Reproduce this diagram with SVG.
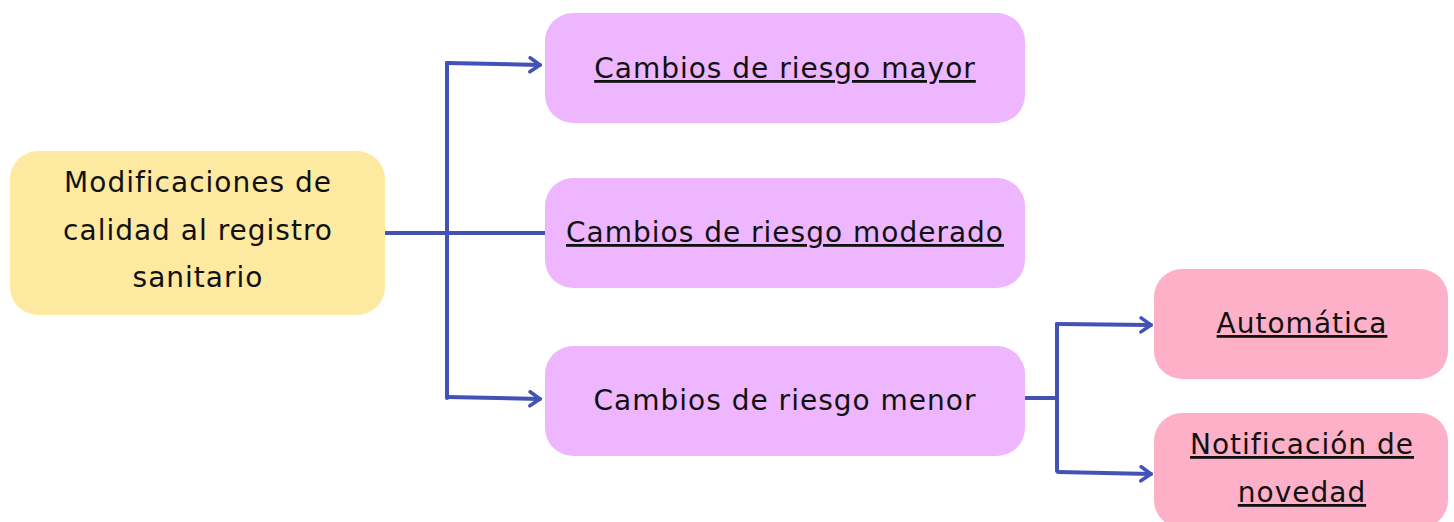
<svg xmlns="http://www.w3.org/2000/svg" width="1454" height="522" viewBox="0 0 1454 522">
<style>
.t{font-family:"DejaVu Sans","Noto Sans",sans-serif;font-size:28px;letter-spacing:1px;fill:#111;text-anchor:middle}
.u{text-decoration:underline}
.c{fill:none;stroke:#4252b6;stroke-width:4;stroke-linecap:round;stroke-linejoin:round}
</style>
<defs>
<marker id="a" viewBox="0 0 16 18" refX="13" refY="9" markerWidth="16" markerHeight="18" markerUnits="userSpaceOnUse" orient="auto">
<path d="M3,2 L13,9 L3,16" fill="none" stroke="#4252b6" stroke-width="3.5" stroke-linecap="round" stroke-linejoin="round"/>
</marker>
</defs>
<rect width="1454" height="522" fill="#fff"/>
<g id="connectors">
<path class="c" d="M385,233 H545"/>
<path class="c" d="M447,398 V63"/>
<path class="c" d="M447,63 L540,65" marker-end="url(#a)"/>
<path class="c" d="M447,397 L540,399" marker-end="url(#a)"/>
<path class="c" d="M1025,398 H1057"/>
<path class="c" d="M1057,471 V324"/>
<path class="c" d="M1057,324 L1151,325" marker-end="url(#a)"/>
<path class="c" d="M1058,472 L1151,474" marker-end="url(#a)"/>
</g>
<g id="n0">
<rect x="10" y="151" width="375" height="164" rx="28" fill="#fde99f"/>
<text class="t" x="198" y="192">Modificaciones de</text>
<text class="t" x="198" y="240">calidad al registro</text>
<text class="t" x="198" y="287">sanitario</text>
</g>
<g id="n1">
<rect x="545" y="13" width="480" height="110" rx="28" fill="#edb6fe"/>
<text class="t u" x="785" y="78">Cambios de riesgo mayor</text>
</g>
<g id="n2">
<rect x="545" y="178" width="480" height="110" rx="28" fill="#edb6fe"/>
<text class="t u" x="785" y="242">Cambios de riesgo moderado</text>
</g>
<g id="n3">
<rect x="545" y="346" width="480" height="110" rx="28" fill="#edb6fe"/>
<text class="t" x="785" y="410">Cambios de riesgo menor</text>
</g>
<g id="n4">
<rect x="1154" y="269" width="294" height="110" rx="28" fill="#feb0c9"/>
<text class="t u" x="1302" y="333">Automática</text>
</g>
<g id="n5">
<rect x="1154" y="413" width="294" height="115" rx="28" fill="#feb0c9"/>
<text class="t u" x="1302" y="454">Notificación de</text>
<text class="t u" x="1302" y="502">novedad</text>
</g>
</svg>
